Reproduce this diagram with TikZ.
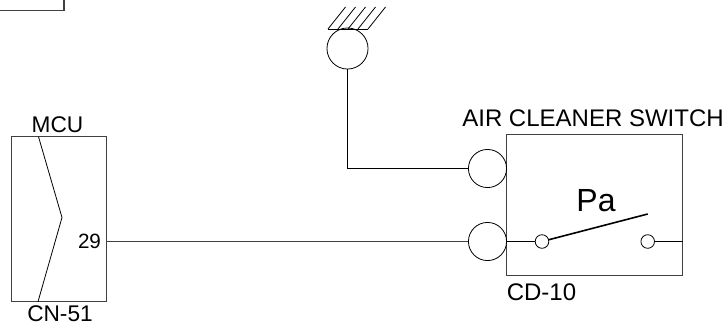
\documentclass[tikz,border=0pt]{standalone}
\usepackage{fontspec}
\setmainfont{Liberation Sans}
\begin{document}
\begin{tikzpicture}[x=.75pt,y=-.75pt,
  line width=.6pt,
  port node/.style={circle,draw,inner sep=0pt,minimum size=28.6pt},
  contact node/.style={circle,draw,inner sep=0pt,minimum size=10.2pt},
  box node/.style={rectangle,draw,inner sep=0pt,line width=.8pt,black!75},
  label node/.style={anchor=base,inner sep=0pt,font=\fontsize{17}{17}\selectfont}, ]
  \useasboundingbox (0,0) rectangle (727,326);

  % corner of the box at the top left
  \coordinate (t0) at (0,10.5);
  \coordinate (t1) at (64,10.5);
  \coordinate (t2) at (64,0);
  \draw[line width=1pt,black!75] (t0) -- (t1) -- (t2);

  % ground
  \node[circle,draw,inner sep=0pt,minimum size=30.8pt] (gnd) at (347.5,48.5) {};
  \coordinate (g0) at (328,29);
  \coordinate (g1) at (368,29);
  \draw (g0) -- (g1);
  \foreach \i in {0,10,20,30,40} {
    \draw (328+\i,29) -- (345.5+\i,7);
  }

  \node[box node,minimum width=71.6pt,minimum height=123.8pt] (mcu) at (59,219.2) {};
  \node[box node,minimum width=132pt,minimum height=105.5pt] (sw) at (594.7,205) {};

  \node[port node] (p1) at (487.5,168.5) {};
  \node[port node] (p2) at (487.5,241.5) {};
  \node[contact node] (c1) at (542,241.5) {};
  \node[contact node] (c2) at (647.7,241.5) {};

  % zigzag in the MCU box
  \coordinate (z0) at (38.5,136.7);
  \coordinate (z1) at (62,217.5);
  \coordinate (z2) at (38,301.7);
  \draw (z0) -- (z1) -- (z2);

  \coordinate (m29) at (106.7,241.5);
  \coordinate (bend) at (347.5,168.5);
  \coordinate (s1) at (506.7,241.5);
  \coordinate (s2) at (682.7,241.5);
  \coordinate (tip) at (647.7,214);

  \draw (gnd) -- (bend) -- (p1);
  \draw[black!75] (m29) -- (p2);
  \draw (s1) -- (c1);
  \draw (c2) -- (s2);
  \draw[line width=1.2pt] (c1) -- (tip);

  \node[label node] (mcu label) at (57.5,132) {MCU};
  \node[label node] (cn label) at (60,321.7) {CN-51};
  \node[label node,font=\fontsize{15.5}{15.5}\selectfont] (pin label) at (89.5,248) {29};
  \node[label node,font=\fontsize{18}{18}\selectfont] (sw label) at (593,126) {AIR CLEANER SWITCH};
  \node[label node,font=\fontsize{18}{18}\selectfont] (cd label) at (541.5,300) {CD-10};
  \node[label node,font=\fontsize{24}{24}\selectfont] (pa label) at (596,211.7) {Pa};
\end{tikzpicture}
\end{document}
